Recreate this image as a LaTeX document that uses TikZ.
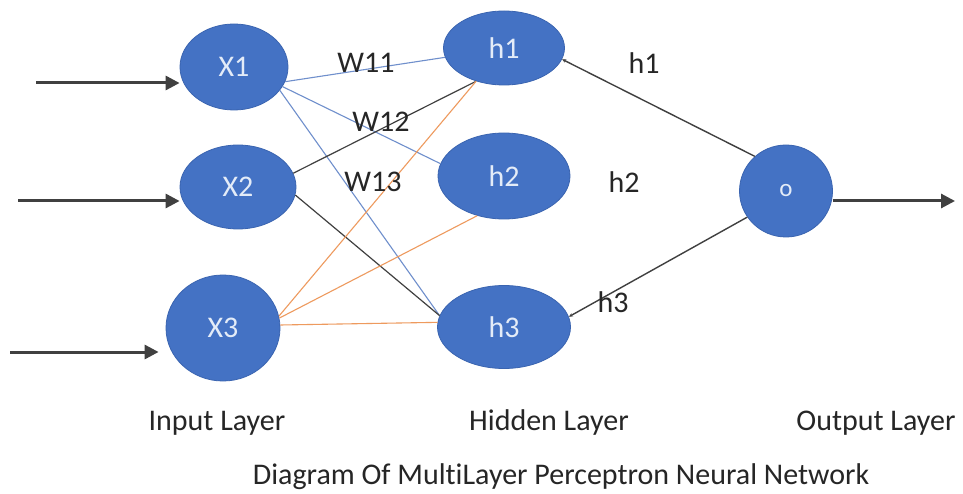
\documentclass[tikz,border=0pt]{standalone}
\usepackage{fontspec}
\setmainfont{Carlito}[Ligatures={NoCommon}]
\usetikzlibrary{arrows.meta,shapes.geometric}
\definecolor{nodeblue}{HTML}{4472C4}
\definecolor{nodeedge}{HTML}{3A64B0}
\definecolor{edgeblue}{HTML}{6F8FCC}
\definecolor{edgeorange}{HTML}{EE9A5E}
\definecolor{edgedark}{HTML}{404040}
\definecolor{txt}{HTML}{262626}
\definecolor{ntxt}{HTML}{E4ECF8}
\begin{document}
\begin{tikzpicture}[x=1pt,y=-1pt,
  neuron/.style={ellipse, fill=nodeblue, draw=nodeedge, line width=0.8pt, inner sep=0pt,
    text=ntxt, font=\fontsize{30}{36}\selectfont},
  lbl/.style={text=txt, inner sep=0pt, font=\fontsize{30}{36}\selectfont},
  inarrow/.style={draw=edgedark, line width=3pt, -{Triangle[length=14pt,width=14pt]}},
  wblue/.style={draw=edgeblue, line width=1.1pt},
  worange/.style={draw=edgeorange, line width=1.1pt},
  wdark/.style={draw=edgedark, line width=1.2pt},
  wout/.style={draw=edgedark, line width=1.4pt, -{Stealth[length=4pt,width=3.5pt]}}]
\useasboundingbox[fill=white] (0,0) rectangle (963,494);

\node[neuron, minimum width=108pt, minimum height=86pt] (X1) at (234,67) {X1};
\node[neuron, minimum width=116pt, minimum height=84pt] (X2) at (238,187) {X2};
\node[neuron, minimum width=114pt, minimum height=106pt] (X3) at (223,328) {X3};
\node[neuron, minimum width=121pt, minimum height=74pt] (h1) at (504,48) {h1};
\node[neuron, minimum width=132pt, minimum height=86pt] (h2) at (504,176) {h2};
\node[neuron, minimum width=133pt, minimum height=83pt] (h3) at (504,327) {h3};
\node[neuron, minimum width=93pt, minimum height=92pt, font=\fontsize{25}{30}\selectfont] (o) at (786,191) {o};

% input -> hidden
\draw[wblue] (X1.-16) -- (h1.189);
\draw[wblue] (X1.-22) -- (h2.169);
\draw[wblue] (X1.-27) -- (h3.170);
\draw[wdark] (X2.14) -- (h1.230);
\draw[wdark] (X2.-8) -- (h3.170);
\draw[worange] (X3.12) -- (h1.230);
\draw[worange] (X3.10) -- (h2.236);
\draw[worange] (X3.3) -- (h3.176);

% hidden -> output
\draw[wout] (o.132) -- (h1.-11);
\draw[wout] (o.214) -- (h3.9);

% input / output arrows
\coordinate (in1) at (36,83);
\coordinate (in2) at (18,201);
\coordinate (in3) at (10,352);
\coordinate (out) at (955,201);
\draw[inarrow] (in1) -- (in1 -| X1.west);
\draw[inarrow] (in2) -- (in2 -| X2.west);
\draw[inarrow, shorten >=7pt] (in3) -- (in3 -| X3.west);
\draw[inarrow] (out -| o.east) -- (out);

% weight labels
\node[lbl] (w11) at (366,63) {W11};
\node[lbl] (w12) at (381,122) {W12};
\node[lbl] (w13) at (373,182) {W13};
\node[lbl] (lh1) at (644,63) {h1};
\node[lbl] (lh2) at (624,182) {h2};
\node[lbl] (lh3) at (613,302) {h3};

% layer labels
\node[lbl] (lin) at (217,423) {Input Layer};
\node[lbl] (lhid) at (549,422) {Hidden Layer};
\node[lbl] (lout) at (876,423) {Output Layer};
\node[lbl] (title) at (561,477) {Diagram Of MultiLayer Perceptron Neural Network};
\end{tikzpicture}
\end{document}
